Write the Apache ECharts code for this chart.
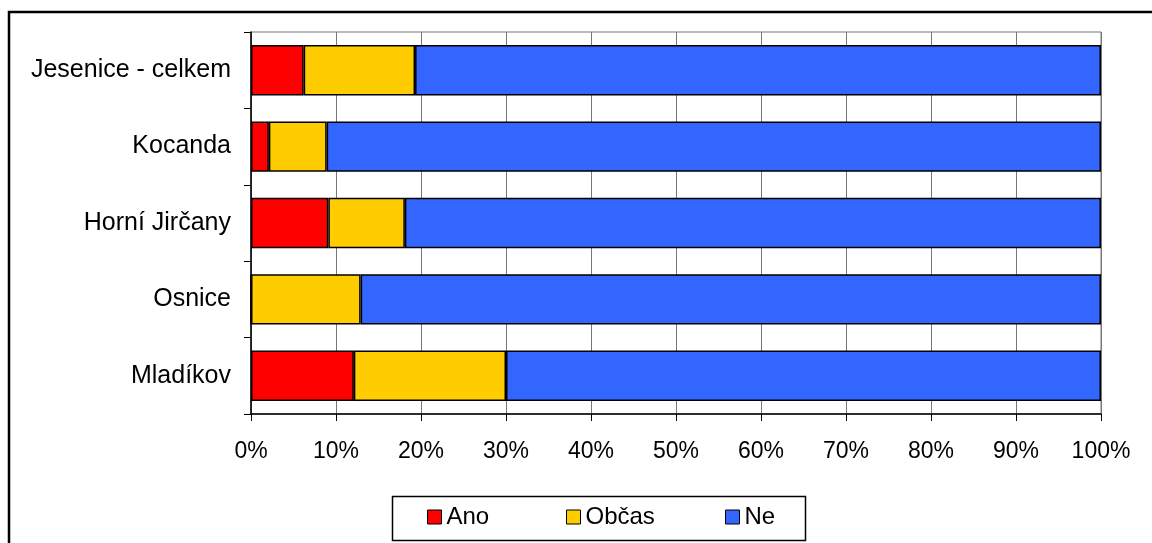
<!DOCTYPE html>
<html>
<head>
<meta charset="utf-8">
<script src="https://cdn.jsdelivr.net/npm/echarts@6/dist/echarts.min.js"></script>
<style>html,body{margin:0;padding:0;background:#fff}#c{width:1152px;height:543px}</style>
</head>
<body>
<div id="c"></div>
<script>
const categories = ['Jesenice - celkem', 'Kocanda', 'Horní Jirčany', 'Osnice', 'Mladíkov'];
const ano   = [6.2, 2.1, 9.1, 0, 12.1];
const obcas = [13.1, 6.8, 9.0, 12.9, 17.9];
const ne    = [80.7, 91.1, 81.9, 87.1, 70.0];
const seriesNames = ['Ano', 'Občas', 'Ne'];
const colors = ['#FF0000', '#FFCC00', '#3366FF'];

const FONT = '"Liberation Sans", Arial, sans-serif';
const chart = echarts.init(document.getElementById('c'));
const mk = (name, data, color) => ({
  name, type: 'bar', stack: 'total', data,
  barCategoryGap: '34%',
  itemStyle: { color, borderColor: '#000', borderWidth: 1.5 },
  emphasis: { disabled: true }
});
const legendItem = (name, left) => ({
  data: [name], left, top: 505, icon: 'rect', itemWidth: 14, itemHeight: 14, itemGap: 5,
  padding: 0,
  itemStyle: { borderColor: '#000', borderWidth: 1 },
  textStyle: { fontFamily: FONT, fontSize: 24, color: '#000', padding: [2, 0, 0, 0] },
  selectedMode: false
});
chart.setOption({
  animation: false,
  backgroundColor: '#fff',
  graphic: [
    { type: 'rect', shape: { x: 9, y: 12, width: 1160, height: 560 }, style: { fill: 'none', stroke: '#000', lineWidth: 2.5 }, z: 100 },
    { type: 'rect', shape: { x: 392.5, y: 496.5, width: 413, height: 44 }, style: { fill: 'none', stroke: '#000', lineWidth: 1.5 }, z: 100 }
  ],
  legend: [legendItem('Ano', 427), legendItem('Občas', 566), legendItem('Ne', 725)],
  grid: { left: 251, right: 51, top: 32, bottom: 129, show: true, borderColor: '#777', borderWidth: 1, backgroundColor: 'transparent' },
  xAxis: {
    type: 'value', min: 0, max: 100, interval: 10,
    axisLine: { show: true, lineStyle: { color: '#000', width: 1.5 } },
    axisTick: { show: true, length: 7, lineStyle: { color: '#000' } },
    splitLine: { show: true, lineStyle: { color: '#777', width: 1 } },
    axisLabel: { formatter: '{value}%', fontFamily: FONT, fontSize: 23, color: '#000', margin: 26 }
  },
  yAxis: {
    type: 'category', data: categories, inverse: true,
    axisLine: { show: true, lineStyle: { color: '#000', width: 1.5 } },
    axisTick: { show: true, length: 7, lineStyle: { color: '#000' } },
    axisLabel: { fontFamily: FONT, fontSize: 25, color: '#000', margin: 20 }
  },
  series: [mk(seriesNames[0], ano, colors[0]), mk(seriesNames[1], obcas, colors[1]), mk(seriesNames[2], ne, colors[2])]
});
</script>
</body>
</html>
